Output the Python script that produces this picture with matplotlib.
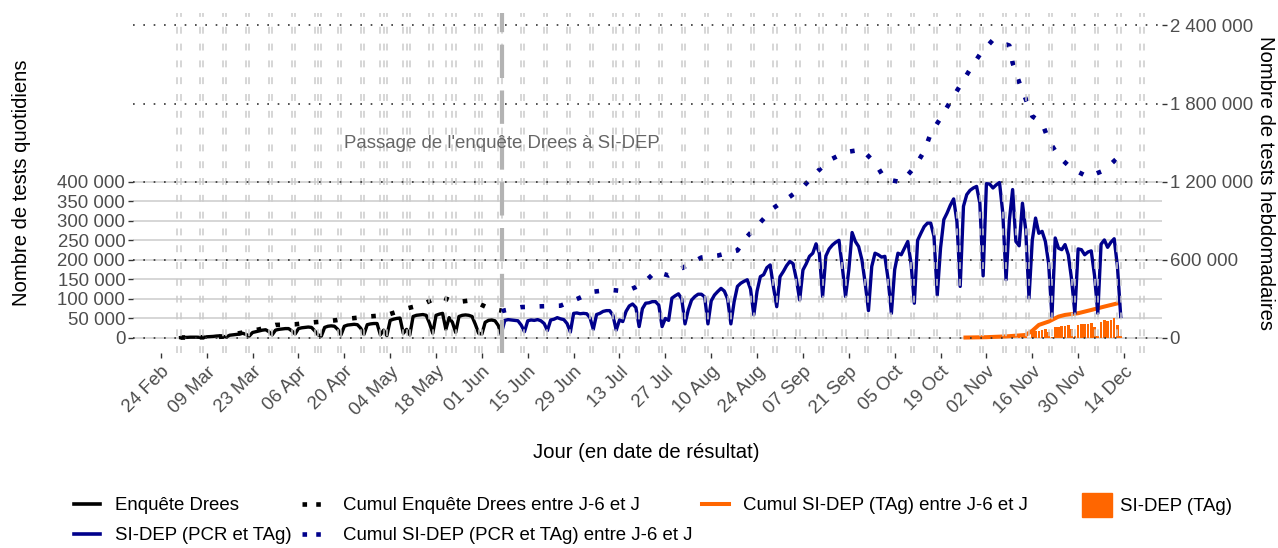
import numpy as np
import pandas as pd
import matplotlib
matplotlib.use("Agg")
import matplotlib.pyplot as plt
from matplotlib.lines import Line2D
from matplotlib.patches import Patch

plt.rcParams['font.family'] = ['Liberation Sans', 'DejaVu Sans']

# ---------------- data (thousands of tests) ----------------
drees_start = "2020-03-01"
drees_daily = [
    1,
    1.5, 1.5, 2, 2, 2, 1.5, 1,
    3, 3.5, 4, 5, 5.5, 4, 2.5,
    7, 8, 9, 10, 12, 9, 5,
    14, 16, 18, 20, 21, 16, 8,
    20, 22, 23, 24, 24, 18, 10,
    24, 26, 27, 28, 27, 18, 8,
    5, 27, 30, 31, 30, 22, 8,
    30, 33, 34, 35, 34, 25, 9,
    34, 36, 37, 37, 8, 20, 6,
    45, 48, 50, 51, 12, 22, 8,
    55, 58, 59, 60, 58, 38, 12,
    58, 61, 63, 22, 52, 40, 14,
    55, 58, 59, 58, 55, 35, 12,
    10, 40, 45, 46, 44, 32, 6,
]

sidep_start = "2020-06-07"
sidep_daily = [
    14,
    45, 47, 46, 45, 44, 33, 16,
    44, 46, 45, 47, 44, 37, 19,
    46, 48, 52, 49, 47, 37, 15,
    63, 64, 62, 63, 62, 52, 22,
    60, 63, 68, 70, 70, 58, 20,
    46, 42, 68, 82, 87, 78, 29,
    75, 89, 90, 93, 93, 84, 29,
    50, 45, 102, 108, 113, 100, 36,
    72, 97, 106, 112, 112, 105, 36,
    95, 110, 119, 127, 120, 100, 36,
    93, 132, 140, 145, 149, 125, 59,
    120, 157, 162, 180, 187, 130, 80,
    157, 170, 185, 196, 190, 150, 97,
    174, 190, 209, 217, 241, 217, 106,
    210, 228, 238, 245, 250, 183, 106,
    174, 270, 247, 234, 200, 140, 70,
    183, 217, 213, 207, 209, 150, 63,
    175, 217, 213, 230, 247, 190, 89,
    250, 268, 285, 294, 294, 260, 110,
    230, 303, 320, 340, 356, 298, 132,
    337, 367, 378, 384, 388, 345, 159,
    395, 394, 384, 392, 398, 320, 149,
    300, 380, 247, 236, 345, 277, 102,
    250, 307, 268, 273, 247, 190, 55,
    256, 230, 226, 239, 213, 150, 63,
    228, 226, 213, 220, 223, 160, 63,
    240, 251, 232, 245, 254, 183, 55,
]

tag_start = "2020-10-26"
tag_daily = [
    0.3, 0.4, 0.5, 0.5, 0.6, 0.4, 0.1,
    0.8, 1.0, 1.2, 1.3, 1.5, 1.0, 0.2,
    2, 2.5, 1, 3, 4, 3, 1,
    14, 17, 19, 20, 22, 15, 3,
    28, 29, 30, 31, 33, 22, 4,
    33, 35, 36, 37, 38, 28, 5,
    42, 45, 43, 47, 50, 33, 6,
]

drees_cum_dates = ["2020-03-01", "2020-03-07", "2020-03-14", "2020-03-19", "2020-03-25",
                   "2020-03-30", "2020-04-05", "2020-04-11", "2020-04-16", "2020-04-22",
                   "2020-04-28", "2020-05-03", "2020-05-09", "2020-05-14", "2020-05-19",
                   "2020-05-24", "2020-05-29", "2020-06-03", "2020-06-07"]
drees_cum_values = [3, 5, 10, 37, 66, 100, 105, 121, 132, 150, 166, 176, 226, 258, 321,
                    274, 290, 229, 210]

sidep_cum_dates = ["2020-06-07", "2020-06-08", "2020-06-13", "2020-06-19", "2020-06-25",
                   "2020-06-30", "2020-07-05", "2020-07-10", "2020-07-15", "2020-07-20",
                   "2020-07-24", "2020-07-28", "2020-08-02", "2020-08-07", "2020-08-12",
                   "2020-08-18", "2020-08-21", "2020-08-25", "2020-08-29", "2020-09-03",
                   "2020-09-07", "2020-09-11", "2020-09-15", "2020-09-20", "2020-09-25",
                   "2020-09-29", "2020-10-02", "2020-10-07", "2020-10-11", "2020-10-14",
                   "2020-10-16", "2020-10-19", "2020-10-22", "2020-10-25", "2020-10-28",
                   "2020-10-31", "2020-11-04", "2020-11-09", "2020-11-10", "2020-11-12",
                   "2020-11-14", "2020-11-16", "2020-11-19", "2020-11-21", "2020-11-24",
                   "2020-11-28", "2020-12-03", "2020-12-08", "2020-12-12"]
sidep_cum_values = [205, 212, 237, 243, 248, 299, 355, 370, 358, 413, 510, 480, 549, 618,
                    633, 672, 780, 888, 998, 1085, 1160, 1268, 1365, 1427, 1447, 1345,
                    1222, 1196, 1309, 1434, 1570, 1688, 1816, 1939, 2062, 2177, 2290,
                    2246, 2113, 1964, 1836, 1703, 1652, 1519, 1396, 1301, 1237, 1288, 1383]

tag_cum_dates = ["2020-10-26", "2020-11-02", "2020-11-08", "2020-11-14", "2020-11-16",
                 "2020-11-18", "2020-11-21", "2020-11-24", "2020-11-26", "2020-11-30",
                 "2020-12-04", "2020-12-08", "2020-12-13"]
tag_cum_values = [3, 6, 12, 23, 55, 100, 126, 164, 177, 190, 215, 241, 272]

holidays = ["2020-04-13", "2020-05-01", "2020-05-08", "2020-05-21", "2020-06-01",
            "2020-07-14", "2020-11-11"]
switch_date = "2020-06-07"
switch_label = "Passage de l'enquête Drees à SI-DEP"

left_ticks = [0, 50000, 100000, 150000, 200000, 250000, 300000, 350000, 400000]
right_ticks = [0, 600000, 1200000, 1800000, 2400000]

labels = ["Enquête Drees", "SI-DEP (PCR et TAg)",
          "Cumul Enquête Drees entre J-6 et J", "Cumul SI-DEP (PCR et TAg) entre J-6 et J",
          "Cumul SI-DEP (TAg) entre J-6 et J", "SI-DEP (TAg)"]

# ---------------- styling ----------------
NAVY = "#00008B"
ORANGE = "#ff6600"
DOT = (0, (1, 3.2))
FS = 13.4

fig = plt.figure(figsize=(12.78, 5.48), dpi=100)
ax = fig.add_axes([133 / 1278, 1 - 353 / 548, (1162 - 133) / 1278, (353 - 13) / 548])

# solid grid (left axis)
for v in left_ticks:
    ax.axhline(v, color="#cccccc", lw=1.1, zorder=0.5)

# data
dx = pd.date_range(drees_start, periods=len(drees_daily), freq="D")
sx = pd.date_range(sidep_start, periods=len(sidep_daily), freq="D")
tx = pd.date_range(tag_start, periods=len(tag_daily), freq="D")

ax.bar(tx, np.array(tag_daily) * 1000, width=0.8, color=ORANGE, zorder=2)
ax.plot(pd.to_datetime(tag_cum_dates), np.array(tag_cum_values) * 1000 / 3,
        color=ORANGE, lw=2.9, zorder=2.2, solid_capstyle="butt")
ax.plot(dx, np.array(drees_daily) * 1000, color="black", lw=2.4, zorder=2.4,
        solid_joinstyle="round")
ax.plot(sx, np.array(sidep_daily) * 1000, color=NAVY, lw=2.4, zorder=2.4,
        solid_joinstyle="round")
ax.plot(pd.to_datetime(drees_cum_dates), np.array(drees_cum_values) * 1000 / 3,
        color="black", lw=3.3, ls=DOT, zorder=2.5)
ax.plot(pd.to_datetime(sidep_cum_dates), np.array(sidep_cum_values) * 1000 / 3,
        color=NAVY, lw=3.3, ls=DOT, zorder=2.5)

# weekend / holiday vertical lines (on top)
vdays = list(pd.date_range("2020-02-29", "2020-12-20", freq="W-SAT")) + \
        list(pd.date_range("2020-02-29", "2020-12-20", freq="W-SUN")) + \
        list(pd.to_datetime(holidays))
for d in vdays:
    ax.axvline(d, color="#cbcbcb", lw=1.1, ls=(0, (4.5, 6.5)), zorder=3)

# dotted grid (right axis) on top
for v in right_ticks:
    ax.axhline(v / 3, color="#333333", lw=1.2, ls=(0, (1, 5.2)), zorder=3.2)

# transition line + label
ax.axvline(pd.Timestamp(switch_date), color="#b3b3b3", lw=3, ls=(0, (8, 3)), zorder=3.5)
ax.text(pd.Timestamp(switch_date), 497000, switch_label, ha="center", va="center",
        fontsize=FS, color="#666666", zorder=4)

# axes ranges
x0 = pd.Timestamp("2020-02-24")
ax.set_xlim(x0 - pd.Timedelta(days=8.5), x0 + pd.Timedelta(days=305.6))
ax.set_ylim(-38500, 832000)

for s in ax.spines.values():
    s.set_visible(False)

xt = pd.date_range("2020-02-24", "2020-12-14", freq="14D")
ax.set_xticks(xt)
ax.set_xticklabels([d.strftime("%d %b") for d in xt], rotation=45, ha="right",
                   rotation_mode="anchor")
ax.set_yticks(left_ticks)
ax.set_yticklabels([f"{v:,}".replace(",", " ") for v in left_ticks])
ax.tick_params(axis="both", length=3.5, width=1, color="#333333", labelcolor="#4d4d4d",
               labelsize=FS, pad=2)
ax.tick_params(axis="x", pad=4)

sec = ax.secondary_yaxis("right", functions=(lambda v: v * 3, lambda v: v / 3))
sec.set_yticks(right_ticks)
sec.set_yticklabels([f"{v:,}".replace(",", " ") for v in right_ticks])
sec.tick_params(length=3.5, width=1, color="#333333", labelcolor="#4d4d4d",
                labelsize=FS, pad=2)
for s in sec.spines.values():
    s.set_visible(False)

fig.text(22 / 1278, 1 - 183 / 548, "Nombre de tests quotidiens", rotation=90,
         ha="center", va="center", fontsize=14.6)
fig.text(1266 / 1278, 1 - 183 / 548, "Nombre de tests hebdomadaires", rotation=270,
         ha="center", va="center", fontsize=14.6)
fig.text(646 / 1278, 1 - 452 / 548, "Jour (en date de résultat)", ha="center",
         va="center", fontsize=14.6)

# legends
h = [Line2D([], [], color="black", lw=2.6),
     Line2D([], [], color=NAVY, lw=2.6),
     Line2D([], [], color="black", lw=3.3, ls=(0, (1, 2.0))),
     Line2D([], [], color=NAVY, lw=3.3, ls=(0, (1, 2.0))),
     Line2D([], [], color=ORANGE, lw=2.9)]
leg1 = fig.legend(h, labels[:5], ncol=3, loc="upper left",
                  bbox_to_anchor=(74 / 1278, 1 - 497 / 548), frameon=False, fontsize=FS,
                  handlelength=1.4, handletextpad=0.8, columnspacing=0.55,
                  labelspacing=0.72, borderpad=0, borderaxespad=0)
leg2 = fig.legend([Patch(color=ORANGE)], labels[5:], loc="upper left",
                  bbox_to_anchor=(1082 / 1278, 1 - 493 / 548), frameon=False, fontsize=FS,
                  handlelength=1.6, handleheight=1.6, handletextpad=0.45,
                  borderpad=0, borderaxespad=0)

fig.savefig("out.png", dpi=100)
